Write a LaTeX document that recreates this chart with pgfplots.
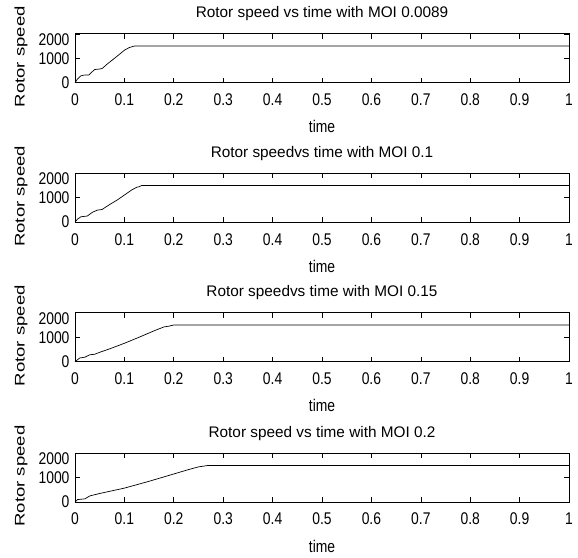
\documentclass[border=0pt]{standalone}
\usepackage{pgfplots}
\pgfplotsset{compat=1.18}
\usepackage{fontspec}
\setmainfont{Liberation Sans}[FakeStretch=0.82]
\newfontfamily\titlefont{Liberation Sans}
\newfontfamily\ylfont{Liberation Sans}[FakeStretch=1.33]
\begin{document}
\pgfplotsset{
  every axis title shift=0pt,
  rsax/.style={
    scale only axis, width=496pt, height=49pt,
    xmin=0, xmax=1, ymin=0, ymax=2000,
    xtick={0,0.1,...,1.0}, ytick={0,1000,2000},
    xticklabels={0,0.1,0.2,0.3,0.4,0.5,0.6,0.7,0.8,0.9,1},
    yticklabels={0,1000,{\raisebox{-5.5pt}[\height][\depth]{2000}}},
    scaled y ticks=false,
    tick align=inside, major tick length=5pt,
    tick style={black, line width=0.6pt},
    axis line style={black, line width=0.9pt},
    /pgf/number format/assume math mode=true,
    /pgf/number format/1000 sep={},
    tick label style={font=\fontsize{17}{17}\selectfont},
    title style={font=\titlefont\fontsize{15.4}{15.4}\selectfont, at={(axis description cs:0.5,1.327)}, anchor=base},
    xticklabel style={anchor=base, yshift=-23pt},
    yticklabel style={anchor=east, xshift=-2pt},
    xlabel={time},
    xlabel style={font=\fontsize{17}{17}\selectfont, at={(axis description cs:0.5,-1.03)}, anchor=base},
    ylabel={Rotor speed},
    ylabel style={font=\ylfont\fontsize{14}{14}\selectfont, at={(axis description cs:-0.109,0.53)}, anchor=center},
    anchor=north west,
  },
}
\begin{tikzpicture}
\path[use as bounding box] (0pt,0pt) rectangle (578pt,-560pt);
\begin{axis}[rsax, at={(73pt,-34pt)}, title={Rotor speed vs time with MOI 0.0089}]
\addplot[black, line width=0.7pt] coordinates {
(0,0) (0.005,150) (0.012,280) (0.018,310) (0.028,315) (0.035,450) (0.04,540) (0.05,560)
(0.055,580) (0.065,760) (0.075,920) (0.085,1080) (0.1,1330) (0.11,1440) (0.12,1500) (1,1500)};
\end{axis}
\begin{axis}[rsax, at={(73pt,-174pt)}, title={Rotor speedvs time with MOI 0.1}]
\addplot[black, line width=0.7pt] coordinates {
(0,0) (0.005,120) (0.012,220) (0.025,250) (0.035,400) (0.045,490) (0.055,520)
(0.07,720) (0.085,900) (0.1,1110) (0.115,1320) (0.125,1430) (0.13,1450) (0.135,1500) (1,1500)};
\end{axis}
\begin{axis}[rsax, at={(73pt,-314pt)}, title={Rotor speedvs time with MOI 0.15}]
\addplot[black, line width=0.7pt] coordinates {
(0,0) (0.01,150) (0.02,180) (0.03,280) (0.04,300) (0.05,380) (0.07,520) (0.1,750)
(0.13,1000) (0.16,1260) (0.18,1420) (0.19,1450) (0.2,1500) (1,1500)};
\end{axis}
\begin{axis}[rsax, at={(73pt,-455pt)}, title={Rotor speed vs time with MOI 0.2}]
\addplot[black, line width=0.7pt] coordinates {
(0,0) (0.005,100) (0.02,130) (0.03,250) (0.05,350) (0.1,570) (0.15,850) (0.2,1150)
(0.23,1330) (0.25,1440) (0.27,1500) (1,1500)};
\end{axis}
\end{tikzpicture}
\end{document}
